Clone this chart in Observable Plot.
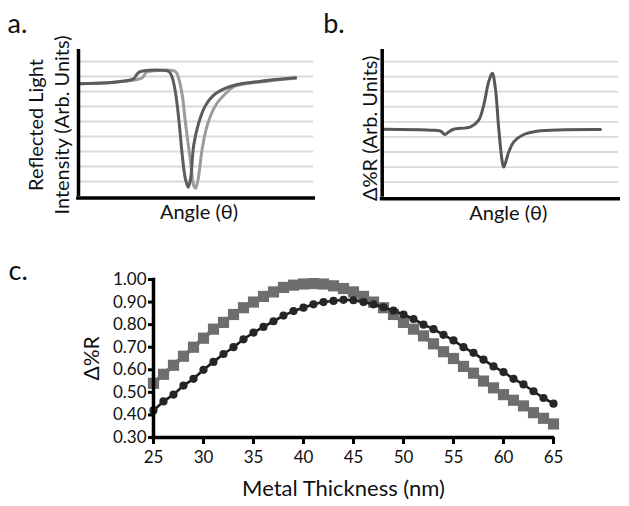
<!DOCTYPE html>
<html>
<head>
<meta charset="utf-8">
<script src="https://cdn.jsdelivr.net/npm/d3@7"></script>
<script src="https://cdn.jsdelivr.net/npm/@observablehq/plot@0.6"></script>
<style>
  html, body { margin: 0; padding: 0; background: #fff; }
  #root { position: relative; width: 629px; height: 506px; overflow: hidden; font-family: Lato, "Open Sans", sans-serif; }
  .panel { position: absolute; }
  .panel svg { display: block; overflow: visible; }
</style>
</head>
<body>
<div id="root">
  <div class="panel" id="pa" style="left:0;top:0"></div>
  <div class="panel" id="pb" style="left:300px;top:0"></div>
  <div class="panel" id="pc" style="left:0;top:240px"></div>
</div>
<script>
// ---------- Panel a: reflected light intensity vs angle (arbitrary units) ----------
const aDarkAngle  = [0.1, 12.8, 19.8, 23.3, 24.8, 26.2, 38.1, 39.5, 40.9, 42.3, 43.8, 45.1, 46.3, 47.3, 48.6, 50.8, 53.6, 57.8, 65.4, 79.6, 91.6];
const aDarkSignal = [7.51, 7.58, 7.71, 7.85, 8.18, 8.33, 8.33, 7.95, 6.95, 5.18, 2.73, 1.18, 0.62, 1.18, 3.4, 4.95, 6.07, 6.85, 7.4, 7.73, 7.91];
const aLightAngle  = [0.1, 12.8, 19.8, 24.1, 26.9, 28.6, 29.5, 40.9, 42.3, 43.8, 45.1, 47.3, 48.6, 49.4, 50.5, 52.2, 54.3, 57.8, 62.0, 65.9, 79.6, 91.6];
const aLightSignal = [7.51, 7.58, 7.68, 7.78, 7.91, 8.29, 8.33, 8.33, 7.85, 6.73, 4.95, 2.29, 0.73, 0.55, 1.18, 3.18, 4.73, 6.07, 6.85, 7.35, 7.68, 7.88];

// ---------- Panel b: Δ%R vs angle (arbitrary units) ----------
const bAngle  = [0.7, 20.3, 24.5, 26.3, 27.9, 30.0, 37.1, 40.5, 42.6, 44.7, 46.2, 47.5, 48.9, 50.4, 51.0, 53.1, 55.2, 59.4, 65.0, 91.6];
const bSignal = [4.51, 4.45, 4.38, 4.16, 4.33, 4.51, 4.67, 5.11, 6.11, 7.67, 8.22, 7.22, 4.56, 2.33, 2.0, 3.0, 3.67, 4.16, 4.38, 4.49];

const gridLevels = [1, 2, 3, 4, 5, 6, 7, 8, 9];

// ---------- Panel c: Δ%R vs metal thickness ----------
const thickness = [25, 26, 27, 28, 29, 30, 31, 32, 33, 34, 35, 36, 37, 38, 39, 40, 41, 42, 43, 44, 45,
                   46, 47, 48, 49, 50, 51, 52, 53, 54, 55, 56, 57, 58, 59, 60, 61, 62, 63, 64, 65];
const squareSeries = [0.54, 0.58, 0.62, 0.66, 0.70, 0.74, 0.78, 0.81, 0.845, 0.875, 0.90, 0.925, 0.945, 0.965, 0.975, 0.98, 0.982, 0.98, 0.972, 0.96, 0.945,
                      0.925, 0.90, 0.875, 0.845, 0.81, 0.78, 0.75, 0.715, 0.68, 0.65, 0.615, 0.585, 0.55, 0.52, 0.49, 0.465, 0.44, 0.41, 0.385, 0.36];
const circleSeries = [0.42, 0.46, 0.49, 0.53, 0.56, 0.60, 0.635, 0.67, 0.70, 0.735, 0.765, 0.79, 0.815, 0.84, 0.86, 0.875, 0.89, 0.90, 0.905, 0.91, 0.908,
                      0.90, 0.89, 0.877, 0.862, 0.845, 0.825, 0.80, 0.78, 0.755, 0.73, 0.70, 0.675, 0.645, 0.615, 0.59, 0.56, 0.535, 0.505, 0.475, 0.45];
const yTicksC = [0.30, 0.40, 0.50, 0.60, 0.70, 0.80, 0.90, 1.00];
const xTicksC = [25, 30, 35, 40, 45, 50, 55, 60, 65];

const FONT = "Lato, 'Open Sans', sans-serif";
const zip = (xs, ys) => xs.map((x, i) => ({x, y: ys[i]}));

// ---------- Build panel a ----------
const aDark = zip(aDarkAngle, aDarkSignal);
const aLight = zip(aLightAngle, aLightSignal);
const plotA = Plot.plot({
  width: 320, height: 230,
  marginLeft: 78, marginRight: 5, marginTop: 49, marginBottom: 34,
  x: {domain: [0, 100], axis: null},
  y: {domain: [0, 9.8], axis: null},
  style: {fontFamily: FONT, background: "transparent", overflow: "visible"},
  marks: [
    Plot.ruleY(gridLevels, {x1: 0, x2: 99.2, stroke: "#dadada", strokeWidth: 1.8}),
    Plot.line(aLight, {x: "x", y: "y", curve: "catmull-rom", stroke: "#9b9b9b", strokeWidth: 3}),
    Plot.line(aDark, {x: "x", y: "y", curve: "catmull-rom", stroke: "#5c5c5c", strokeWidth: 3}),
    Plot.ruleX([0], {stroke: "#000", strokeWidth: 3.5}),
    Plot.ruleY([0], {stroke: "#000", strokeWidth: 3.5, dy: 1.5, x1: -0.8, x2: 100}),
    Plot.text(["Angle (θ)"], {frameAnchor: "bottom", lineAnchor: "middle", dx: 2, dy: 16, fontSize: 20, fill: "#111"}),
    Plot.text(["Reflected Light\nIntensity (Arb. Units)"], {frameAnchor: "left", textAnchor: "middle", lineAnchor: "middle", rotate: -90, dx: -31, dy: 2, fontSize: 20, lineHeight: 1.3, fill: "#111"}),
    Plot.text(["a."], {frameAnchor: "top-left", textAnchor: "start", lineAnchor: "middle", dx: -71, dy: -25.5, fontSize: 27, fill: "#111"})
  ]
});
document.getElementById("pa").append(plotA);

// ---------- Build panel b ----------
const bData = zip(bAngle, bSignal);
const plotB = Plot.plot({
  width: 329, height: 230,
  marginLeft: 81.7, marginRight: 9, marginTop: 49, marginBottom: 33.3,
  x: {domain: [0, 100], axis: null},
  y: {domain: [0, 9.8], axis: null},
  style: {fontFamily: FONT, background: "transparent", overflow: "visible"},
  marks: [
    Plot.ruleY(gridLevels, {x1: 0, x2: 99.2, stroke: "#dadada", strokeWidth: 1.8}),
    Plot.line(bData, {x: "x", y: "y", curve: "catmull-rom", stroke: "#575757", strokeWidth: 3}),
    Plot.ruleX([0], {stroke: "#000", strokeWidth: 3.5}),
    Plot.ruleY([0], {stroke: "#000", strokeWidth: 3.5, dy: 1.5, x1: -0.8, x2: 100}),
    Plot.text(["Angle (θ)"], {frameAnchor: "bottom", lineAnchor: "middle", dx: 7, dy: 16, fontSize: 20, fill: "#111"}),
    Plot.text(["Δ%R (Arb. Units)"], {frameAnchor: "left", textAnchor: "middle", lineAnchor: "middle", rotate: -90, dx: -12, dy: 5, fontSize: 20, fill: "#111"}),
    Plot.text(["b."], {frameAnchor: "top-left", textAnchor: "start", lineAnchor: "middle", dx: -59, dy: -25.5, fontSize: 27, fill: "#111"})
  ]
});
document.getElementById("pb").append(plotB);

// ---------- Build panel c ----------
const squares = zip(thickness, squareSeries);
const circles = zip(thickness, circleSeries);
const plotC = Plot.plot({
  width: 629, height: 266,
  marginLeft: 153, marginRight: 76, marginTop: 39, marginBottom: 69,
  x: {domain: [25, 65]},
  y: {domain: [0.3, 1.0]},
  style: {fontFamily: FONT, fontSize: "17px", background: "transparent", overflow: "visible", color: "#111"},
  marks: [
    Plot.axisY({ticks: yTicksC, tickFormat: d3.format(".2f"), tickSize: 5, tickPadding: 2, strokeWidth: 3, stroke: "#000", label: null, fontSize: 17}),
    Plot.axisX({ticks: xTicksC, tickFormat: d3.format("d"), tickSize: 7, tickPadding: 6, strokeWidth: 3, stroke: "#000", label: null, fontSize: 17}),
    Plot.line(squares, {x: "x", y: "y", stroke: "#6e6e6e", strokeWidth: 4}),
    Plot.dot(squares, {x: "x", y: "y", symbol: "square", r: 6.3, fill: "#6e6e6e", stroke: "none"}),
    Plot.line(circles, {x: "x", y: "y", stroke: "#1e1e1e", strokeWidth: 2.6}),
    Plot.dot(circles, {x: "x", y: "y", symbol: "circle", r: 4.1, fill: "#262626", stroke: "none"}),
    Plot.ruleX([25], {stroke: "#000", strokeWidth: 3.5, y1: 0.3, y2: 1.005}),
    Plot.ruleY([0.3], {stroke: "#000", strokeWidth: 3.5, x1: 24.8, x2: 65.1}),
    Plot.text(["Metal Thickness (nm)"], {frameAnchor: "bottom", lineAnchor: "middle", dx: -10, dy: 51, fontSize: 22, fill: "#111"}),
    Plot.text(["Δ%R"], {frameAnchor: "left", textAnchor: "middle", lineAnchor: "middle", rotate: -90, dx: -61, dy: 0, fontSize: 21, fill: "#111"}),
    Plot.text(["c."], {frameAnchor: "top-left", textAnchor: "start", lineAnchor: "middle", dx: -145, dy: -8, fontSize: 27, fill: "#111"})
  ]
});
document.getElementById("pc").append(plotC);
</script>
</body>
</html>
